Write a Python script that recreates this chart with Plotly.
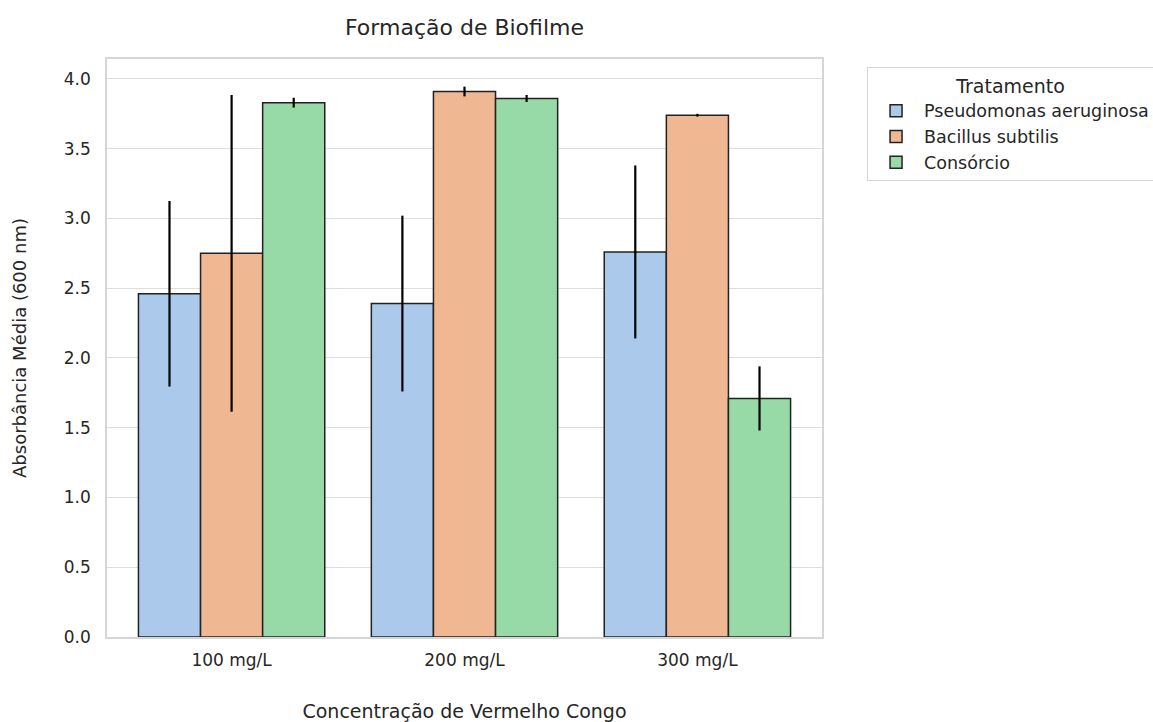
import plotly.graph_objects as go

categories = ["100 mg/L", "200 mg/L", "300 mg/L"]
series_names = ["Pseudomonas aeruginosa", "Bacillus subtilis", "Consórcio"]
pseudomonas = [2.46, 2.39, 2.76]
bacillus = [2.75, 3.91, 3.74]
consorcio = [3.83, 3.86, 1.71]
pseudomonas_err = [0.665, 0.63, 0.62]
bacillus_err = [1.135, 0.035, 0.01]
consorcio_err = [0.035, 0.025, 0.23]
colors = ["#abc9ea", "#efb792", "#98daa7"]

values = [pseudomonas, bacillus, consorcio]
errors = [pseudomonas_err, bacillus_err, consorcio_err]

fig = go.Figure()
for name, vals, errs, col in zip(series_names, values, errors, colors):
    fig.add_trace(go.Bar(
        x=categories, y=vals, name=name,
        marker=dict(color=col, line=dict(color="#222222", width=1.5)),
        error_y=dict(type="data", array=errs, color="black", thickness=2.2, width=0),
    ))

font_family = "DejaVu Sans, sans-serif"
fig.update_layout(
    barmode="group", bargap=0.2, bargroupgap=0,
    width=1153, height=722,
    margin=dict(l=107, r=331, t=59, b=85, autoexpand=False),
    paper_bgcolor="white", plot_bgcolor="white",
    font=dict(family=font_family, size=17, color="#262626"),
    title=dict(text="Formação de Biofilme", x=(107 + 822) / 2 / 1153, xanchor="center",
               y=1 - 27 / 722, yanchor="middle", font=dict(size=22, color="#262626")),
    xaxis=dict(showgrid=False, showline=True, linecolor="#d6d6d6", linewidth=1.5, mirror=True,
               range=[-0.535, 2.535], ticks="outside", ticklen=7, tickcolor="rgba(0,0,0,0)",
               tickfont=dict(size=17),
               title=dict(text="Concentração de Vermelho Congo", standoff=38, font=dict(size=19))),
    yaxis=dict(showgrid=True, gridcolor="#dedede", gridwidth=1, showline=True, linecolor="#d6d6d6",
               linewidth=1.5, mirror=True, range=[0, 4.143], dtick=0.5, tickformat=".1f",
               ticks="outside", ticklen=11, tickcolor="rgba(0,0,0,0)", zeroline=False,
               tickfont=dict(size=17),
               title=dict(text="Absorbância Média (600 nm)", standoff=33, font=dict(size=18))),
    legend=dict(x=1.063, xanchor="left", y=0.986, yanchor="top",
                bordercolor="#d6d6d6", borderwidth=1, bgcolor="white",
                font=dict(size=17.5), tracegroupgap=0, itemwidth=46,
                title=dict(text="Tratamento", side="top center", font=dict(size=19))),
)

fig.write_html("out.html")
